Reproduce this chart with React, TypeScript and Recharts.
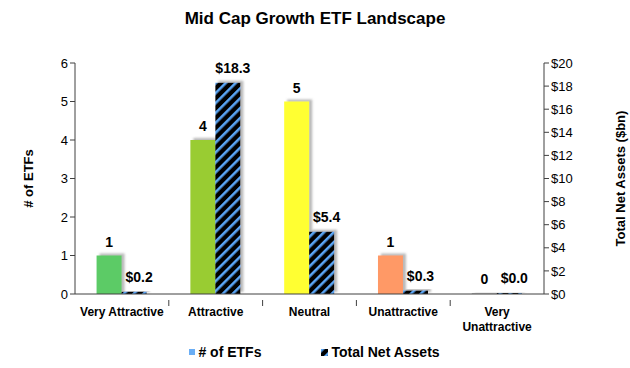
import { BarChart, Bar, XAxis, YAxis, Cell, LabelList, Legend } from "recharts";

const categories = ["Very Attractive", "Attractive", "Neutral", "Unattractive", "Very Unattractive"];
const etfCounts = [1, 4, 5, 1, 0];
const netAssets = [0.2, 18.3, 5.4, 0.3, 0.0];
const countTicks = [0, 1, 2, 3, 4, 5, 6];
const assetTicks = [0, 2, 4, 6, 8, 10, 12, 14, 16, 18, 20];
const ratingColors = ["#5CCB66", "#99CC33", "#FFFF33", "#FF9966", "#BFBFBF"];

const data = categories.map((name, i) => ({
    name,
    etfs: etfCounts[i],
    assets: netAssets[i],
}));

const FONT = "'Liberation Sans', Arial, sans-serif";
const AXIS = "#404040";

const CategoryTick = (props: any) => {
    const { x, y, payload, index } = props;
    const words: string[] = String(payload.value).length > 15 ? String(payload.value).split(" ") : [payload.value];
    const half = payload.offset || 0;
    return (
        <g>
            {index < categories.length - 1 && (
                <line x1={x + half} x2={x + half} y1={y - 2} y2={y + 4} stroke={AXIS} />
            )}
            <text x={x} y={y + 14} textAnchor="middle" fontFamily={FONT} fontSize={12} fontWeight="bold" fill="#000">
                {words.map((w, i) => (
                    <tspan key={i} x={x} dy={i === 0 ? 0 : 15}>{w}</tspan>
                ))}
            </text>
        </g>
    );
};

const countLabel = (props: any) => {
    const { x, y, width, value } = props;
    return (
        <text x={x + width / 2} y={y - 9} textAnchor="middle" fontFamily={FONT} fontSize={14} fontWeight="bold" fill="#000">
            {value}
        </text>
    );
};

const assetLabel = (props: any) => {
    const { x, y, width, value } = props;
    return (
        <text x={x + width / 2 + 5} y={y - 10} textAnchor="middle" fontFamily={FONT} fontSize={14} fontWeight="bold" fill="#000">
            {"$" + Number(value).toFixed(1)}
        </text>
    );
};

const LegendBox = () => (
    <div style={{ display: "flex", justifyContent: "center", fontFamily: FONT, fontSize: 14, fontWeight: "bold", color: "#000" }}>
        <span style={{ display: "flex", alignItems: "center", marginRight: 60 }}>
            <span style={{ width: 6, height: 6, background: "#6AAEF5", marginRight: 3 }} />
            # of ETFs
        </span>
        <span style={{ display: "flex", alignItems: "center" }}>
            <svg width={7} height={7} style={{ marginRight: 3 }}>
                <rect width={7} height={7} fill="url(#hatch)" />
            </svg>
            Total Net Assets
        </span>
    </div>
);

export default function App() {
    return (
        <div style={{ position: "absolute", left: 0, top: 0, width: 630, height: 368, background: "#fff" }}>
            <div style={{ position: "absolute", top: 9, width: 630, textAlign: "center", fontFamily: FONT, fontSize: 17, fontWeight: "bold" }}>
                Mid Cap Growth ETF Landscape
            </div>
            <BarChart
                width={630}
                height={368}
                data={data}
                margin={{ top: 63, right: 31, left: 30, bottom: 4 }}
                barCategoryGap="23%"
                barGap={0}
            >
                <defs>
                    <pattern id="hatch" width={7} height={7} patternUnits="userSpaceOnUse" patternTransform="rotate(45)">
                        <rect width={7} height={7} fill="#000" />
                        <rect width={2.6} height={7} fill="#5AA5F5" />
                    </pattern>
                    <filter id="shadow" x="-20%" y="-20%" width="150%" height="140%">
                        <feDropShadow dx={3} dy={-2} stdDeviation={1} floodColor="#808080" floodOpacity={0.55} />
                    </filter>
                </defs>
                <XAxis
                    dataKey="name"
                    height={50}
                    axisLine={{ stroke: AXIS }}
                    tickLine={false}
                    tick={<CategoryTick />}
                    interval={0}
                />
                <YAxis
                    yAxisId="l"
                    domain={[0, 6]}
                    ticks={countTicks}
                    width={45}
                    axisLine={{ stroke: AXIS }}
                    tickLine={{ stroke: AXIS }}
                    tickSize={5}
                    tick={{ fontFamily: FONT, fontSize: 13, fill: "#000" }}
                    label={{
                        content: ({ viewBox }: any) => (
                            <text
                                x={viewBox.x - 2}
                                y={viewBox.y + viewBox.height / 2}
                                transform={`rotate(-90, ${viewBox.x - 2}, ${viewBox.y + viewBox.height / 2})`}
                                textAnchor="middle"
                                dominantBaseline="central"
                                fontFamily={FONT}
                                fontSize={13}
                                fontWeight="bold"
                            >
                                # of ETFs
                            </text>
                        ),
                    }}
                />
                <YAxis
                    yAxisId="r"
                    orientation="right"
                    domain={[0, 20]}
                    ticks={assetTicks}
                    width={55}
                    axisLine={{ stroke: AXIS }}
                    tickLine={{ stroke: AXIS }}
                    tickSize={5}
                    tickFormatter={(v: number) => "$" + v}
                    tick={{ fontFamily: FONT, fontSize: 13, fill: "#000" }}
                    label={{
                        content: ({ viewBox }: any) => {
                            const lx = viewBox.x + viewBox.width + 21;
                            const ly = viewBox.y + viewBox.height / 2;
                            return (
                                <text
                                    x={lx}
                                    y={ly}
                                    transform={`rotate(-90, ${lx}, ${ly})`}
                                    textAnchor="middle"
                                    dominantBaseline="central"
                                    fontFamily={FONT}
                                    fontSize={13}
                                    fontWeight="bold"
                                >
                                    Total Net Assets ($bn)
                                </text>
                            );
                        },
                    }}
                />
                <Legend verticalAlign="bottom" height={20} content={<LegendBox />} />
                <Bar yAxisId="l" dataKey="etfs" fill="#6AAEF5" filter="url(#shadow)" minPointSize={1} isAnimationActive={false}>
                    {data.map((d, i) => (
                        <Cell key={d.name} fill={ratingColors[i]} />
                    ))}
                    <LabelList dataKey="etfs" content={countLabel} />
                </Bar>
                <Bar yAxisId="r" dataKey="assets" fill="url(#hatch)" filter="url(#shadow)" minPointSize={1} isAnimationActive={false}>
                    <LabelList dataKey="assets" content={assetLabel} />
                </Bar>
            </BarChart>
        </div>
    );
}
